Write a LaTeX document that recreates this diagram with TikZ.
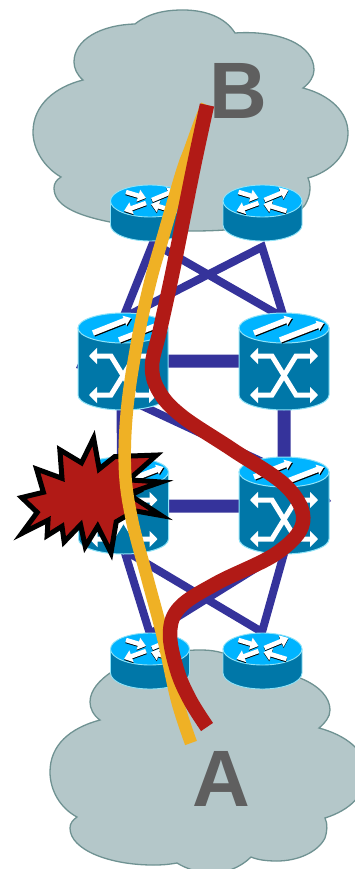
\documentclass[tikz,border=0pt]{standalone}
\usepackage{fontspec}
\setmainfont{Liberation Sans}
\usetikzlibrary{arrows.meta}
\definecolor{cloudfill}{HTML}{B4C7C9}
\definecolor{cloudline}{HTML}{6F9292}
\definecolor{linkblue}{HTML}{35339B}
\definecolor{devbody}{HTML}{0077A8}
\definecolor{devtop}{HTML}{00B4FF}
\definecolor{devedge}{HTML}{8FE3F8}
\definecolor{pathred}{HTML}{B11A16}
\definecolor{pathorange}{HTML}{EFB125}
\definecolor{lettergray}{HTML}{5F5F5F}
\tikzset{
  x=1pt,y=-1pt,
  cloudshape/.style={fill=cloudfill,draw=cloudline,line width=1.3pt},
  thinlink/.style={draw=linkblue,line width=8pt,miter limit=10},
  thicklink/.style={draw=linkblue,line width=13pt},
  letter/.style={font=\fontsize{80}{80}\selectfont\bfseries,text=lettergray,inner sep=0pt},
  burst/.style={fill=pathred,draw=black,line width=5pt,miter limit=10},
  ra/.style={line width=4.5pt,white,-{Triangle[length=8pt,width=12pt]}},
  rs/.style={line width=4.5pt,black,-{Triangle[length=8pt,width=12pt]}},
  xa/.style={line width=5pt,white,{Triangle[length=8pt,width=16pt]}-{Triangle[length=8pt,width=16pt]}},
  sa/.style={line width=5.5pt,white,-{Triangle[length=7pt,width=10pt]}},
  ss/.style={line width=5.5pt,black,-{Triangle[length=7pt,width=10pt]}},
  pics/routerdev/.style={code={
    \draw[fill=devbody,draw=devedge,line width=.9pt]
      (-39.5,0) -- (-39.5,24) arc[start angle=180,end angle=0,x radius=39.5,y radius=16] -- (39.5,0) -- cycle;
    \draw[fill=devtop,draw=devedge,line width=.9pt] (0,0) ellipse[x radius=39.5,y radius=16];
    \draw[rs] (-24,-8) -- (-4,-2.2);
    \draw[rs] (2,0) -- (26,-10);
    \draw[rs] (-4,3) -- (-26,11);
    \draw[rs] (24,11) -- (1,4);
    \draw[ra] (-24,-9) -- (-4,-3);
    \draw[ra] (2,-1) -- (26,-11);
    \draw[ra] (-4,2) -- (-26,10);
    \draw[ra] (24,10) -- (1,3);
  }},
  pics/switchdev/.style={code={
    \draw[fill=devbody,draw=devedge,line width=1pt]
      (-45,0) -- (-45,67) arc[start angle=180,end angle=0,x radius=45,y radius=15] -- (45,0) -- cycle;
    \draw[fill=devtop,draw=devedge,line width=1pt] (0,0) ellipse[x radius=45,y radius=15];
    \draw[ss] (-29,6) -- (9,-9);
    \draw[ss] (-3,13) -- (41,-4);
    \draw[sa] (-30,5) -- (8,-10);
    \draw[sa] (-4,12) -- (40,-5);
    \draw[xa,line join=miter] (-34,28) -- (-12,28) -- (12,67) -- (34,67);
    \draw[xa,line join=miter] (-34,67) -- (-12,67) -- (12,28) -- (34,28);
  }}
}
\begin{document}
\begin{tikzpicture}
\clip (0,0) rectangle (355,869);
\fill[white] (0,0) rectangle (355,869);
% clouds
\draw[cloudshape] (135,24) .. controls (150,12) and (168,10) .. (183,10)
  .. controls (205,10) and (225,17) .. (235,33)
  .. controls (280,30) and (314,45) .. (314,70)
  .. controls (314,76) and (310,83) .. (303,88)
  .. controls (330,95) and (348,112) .. (348,133)
  .. controls (348,155) and (330,172) .. (308,178)
  .. controls (311,185) and (311,195) .. (305,205)
  .. controls (290,225) and (240,231) .. (193,231)
  .. controls (165,231) and (135,228) .. (110,222)
  .. controls (75,215) and (54,205) .. (54,188)
  .. controls (54,184) and (56,180) .. (61,177)
  .. controls (45,168) and (33,150) .. (33,132)
  .. controls (33,105) and (55,87) .. (83,80)
  .. controls (77,75) and (74,68) .. (74,62)
  .. controls (74,40) and (100,25) .. (135,24) -- cycle;
\draw[cloudshape] (100,720) .. controls (93,715) and (90,708) .. (90,702)
  .. controls (90,690) and (100,680) .. (110,673)
  .. controls (135,658) and (170,650) .. (200,650)
  .. controls (210,650) and (216,651) .. (223,653)
  .. controls (255,655) and (285,665) .. (300,678)
  .. controls (320,686) and (330,698) .. (330,710)
  .. controls (330,717) and (325,723) .. (319,728)
  .. controls (345,735) and (366,750) .. (366,772)
  .. controls (366,795) and (350,810) .. (325,818)
  .. controls (328,824) and (327,832) .. (325,838)
  .. controls (318,852) and (298,861) .. (277,861)
  .. controls (267,861) and (258,860) .. (251,857)
  .. controls (240,868) and (225,873) .. (212,873)
  .. controls (198,873) and (185,868) .. (177,863)
  .. controls (165,865) and (160,865) .. (153,865)
  .. controls (110,865) and (70,850) .. (70,828)
  .. controls (70,823) and (73,820) .. (77,817)
  .. controls (60,808) and (50,790) .. (50,772)
  .. controls (50,745) and (70,728) .. (100,720) -- cycle;
\node[letter] (lb) at (238,90.5) {B};
\node[letter] (la) at (221,779) {A};
% device positions
\coordinate (r1) at (150,201);
\coordinate (r2) at (262.5,201);
\coordinate (s1) at (123,328);
\coordinate (s2) at (284,328);
\coordinate (s3) at (123.5,472);
\coordinate (s4) at (284,472);
\coordinate (r3) at (150,649);
\coordinate (r4) at (262.5,649);
% link ends
\coordinate (r1b) at (153,243);
\coordinate (r2b) at (262,247);
\coordinate (s1t) at (123,318);
\coordinate (s2t) at (284,318);
\coordinate (s3b) at (124,550);
\coordinate (s4b) at (285,550);
\coordinate (r3t) at (150,634);
\coordinate (r4t) at (262,632);
\coordinate (s1d) at (123,397);
\coordinate (s1m) at (123,361);
\coordinate (s2m) at (284,361);
\coordinate (s3m) at (123.5,506);
\coordinate (s4m) at (284,506);
% links
\draw[thinlink] (r1b) -- (s1t) -- (r2b) -- (s2t) -- cycle;
\draw[thinlink] (s3b) -- (r3t) -- (s4b) -- (r4t) -- cycle;
\draw[thinlink] (s1d) -- (s4);
\draw[thicklink] (s1m) -- (s2m) -- (s4m) -- (s3m) -- cycle;
\fill[linkblue] (80,359) -- (76,368) -- (80,369) -- cycle;
\fill[linkblue] (326,494) -- (331,501) -- (326,505) -- cycle;
% devices
\pic at (r1) {routerdev};
\pic at (r2) {routerdev};
\pic at (s1) {switchdev};
\pic at (s2) {switchdev};
\pic at (s3) {switchdev};
\pic at (s4) {switchdev};
\pic at (r3) {routerdev};
\pic at (r4) {routerdev};
% burst
\begin{scope}[shift={(93,500)},x=0.31pt,y=-0.31pt,shift={(-285,-270)}]
\draw[burst] (287,70) -- (305,170) -- (355,130) -- (490,125) -- (400,205) -- (505,212) -- (410,245)
  -- (445,235) -- (405,255) -- (505,320) -- (420,305) -- (360,340) -- (343,440) -- (300,355) -- (260,420)
  -- (245,350) -- (192,405) -- (185,355) -- (137,385) -- (140,335) -- (55,378) -- (105,310)
  -- (55,262) -- (125,245) -- (103,170) -- (185,200) -- (178,108) -- (248,150) -- cycle;
\end{scope}
% paths
\draw[draw=pathorange,line width=12.5pt] plot[smooth,tension=.6] coordinates
  {(207,105) (199,125) (190,150) (182,172) (163,237) (150,283) (137,343) (127,410) (125,470) (132,520) (147,577) (163,637) (177,700) (191,743)};
\draw[draw=pathred,line width=14.5pt] plot[smooth,tension=.6] coordinates
  {(207,105) (193,170) (173,270) (160,330) (152,367) (160,393) (183,417) (233,450) (287,487) (303,522) (277,553) (217,583) (180,607) (170,633) (177,670) (190,700) (207,727)};
\end{tikzpicture}
\end{document}
